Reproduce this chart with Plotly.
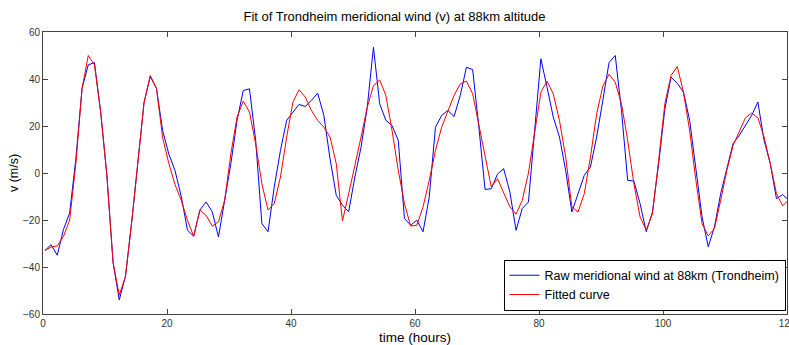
import plotly.graph_objects as go

# time of each hourly sample (hours)
hours = [0.3 + i for i in range(121)]

raw_v = [
    -33, -30.5, -35, -24, -17, 6, 36, 46, 47, 26,
    -1, -38, -54, -44, -21, 5, 30, 41, 36, 18,
    8, 1, -10, -24.3, -26.9, -15.8, -12.3, -16.5, -27.2, -11.6,
    4, 22.4, 35.1, 35.8, 13.9, -21.5, -25, -5.9, 9.6, 22.4,
    25.9, 29.2, 28.3, 30.9, 34, 24.5, 6, -9.5, -13.7, -16.5,
    -1.7, 11, 28, 53.5, 29.5, 22.4, 20.2, 13.9, -19.4, -22.2,
    -20.1, -25, -10.2, 19.5, 24.5, 26.6, 24, 33, 45, 44,
    19.5, -7, -6.7, -0.5, 1.8, -8.1, -24.4, -15.1, -12.3, 18,
    48.6, 36.5, 23.8, 15.3, 1.1, -16.6, -8.8, -1, 2.6, 15.3,
    31, 47, 50, 26.6, -3.1, -3.4, -13, -25, -16.6, 4,
    27.3, 40.8, 38.2, 34.4, 22.4, 2.6, -18.7, -31.4, -22.9, -8.8,
    1.8, 12.5, 16, 20.2, 24.5, 30.2, 13.9, 4, -10.9, -9.2,
    -11.6,
]

fitted_v = [
    -33, -31.5, -31, -27, -20, 4, 36, 50, 46, 26,
    -1, -38, -52, -44, -21, 6, 30, 41.5, 36, 15,
    4, -5, -11.6, -20.1, -26.9, -15.8, -18, -22.6, -20.8, -11.6,
    8.2, 23.8, 30.6, 25.9, 12.4, -4.5, -15.8, -13, -1.7, 15.3,
    30.1, 35.4, 32.3, 26.6, 22.4, 19.5, 15.3, 4, -20.4, -8.8,
    4, 15.3, 28, 37.2, 39.6, 33, 18.1, 1.1, -13, -22.6,
    -22.2, -14.4, -3.1, 9.6, 19.5, 26.6, 33, 37.9, 39.1, 33.7,
    21, 6.8, -5.9, -2.4, -8.8, -14.4, -17.5, -11.6, 0, 18,
    34.4, 39.1, 33.7, 22.4, 6.8, -14.4, -16.6, -8.8, 6.8, 25.2,
    37, 42, 38.6, 29.5, 13.9, -4.5, -18.7, -24.3, -17.3, 5.4,
    29.5, 41.5, 45.3, 34.4, 18, -3.1, -21.5, -26.8, -23.6, -11.6,
    1.1, 11.7, 18, 23.5, 25.5, 23.5, 15.3, 4, -8.8, -14,
    -11.3,
]

x_ticks = [0, 20, 40, 60, 80, 100, 120]
y_ticks = [-60, -40, -20, 0, 20, 40, 60]

FONT = "Liberation Sans, Arial, sans-serif"

fig = go.Figure()
fig.add_trace(go.Scatter(
    x=hours, y=raw_v, mode="lines",
    name="Raw meridional wind at 88km (Trondheim)",
    line=dict(color="#0000FF", width=1),
))
fig.add_trace(go.Scatter(
    x=hours, y=fitted_v, mode="lines",
    name="Fitted curve",
    line=dict(color="#FF0000", width=1),
))

axis_common = dict(
    showline=True, linecolor="#444444", linewidth=1, mirror="allticks",
    ticks="inside", ticklen=5, tickcolor="#444444", tickwidth=1,
    showgrid=False, zeroline=False, ticklabeloverflow="allow",
    automargin=False,
    tickfont=dict(family=FONT, size=10, color="#333333"),
)

fig.update_layout(
    width=789, height=345,
    margin=dict(l=43, r=2, t=32, b=31),
    paper_bgcolor="white", plot_bgcolor="white",
    font=dict(family=FONT, color="black"),
    title=dict(
        text="Fit of Trondheim meridional wind (v) at 88km altitude",
        x=0.5, xanchor="center", y=0.952, yanchor="middle",
        font=dict(family=FONT, size=13, color="black"),
    ),
    xaxis=dict(
        range=[0, 120], tickvals=x_ticks,
        title=dict(text="time (hours)", standoff=4,
                   font=dict(family=FONT, size=13.5, color="black")),
        **axis_common,
    ),
    yaxis=dict(
        range=[-60, 60], tickvals=y_ticks,
        title=dict(text="v (m/s)", standoff=1,
                   font=dict(family=FONT, size=12.5, color="black")),
        **axis_common,
    ),
    legend=dict(
        x=0.998, xanchor="right", y=0.012, yanchor="bottom",
        bgcolor="white", bordercolor="black", borderwidth=1,
        font=dict(family=FONT, size=12.5, color="black"),
        tracegroupgap=0, itemwidth=30,
    ),
    showlegend=True,
)

fig.write_html("out.html")
